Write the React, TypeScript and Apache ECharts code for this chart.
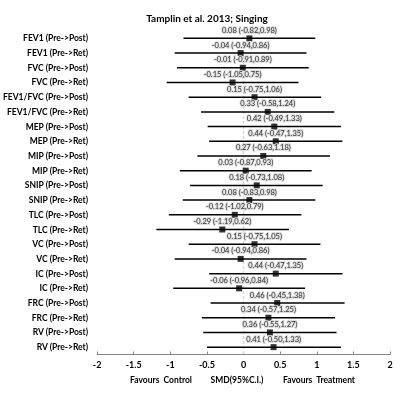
import React, { useEffect, useRef } from "react";
import * as echarts from "echarts";

const categories = [
  "FEV1 (Pre->Post)",
  "FEV1 (Pre->Ret)",
  "FVC (Pre->Post)",
  "FVC (Pre->Ret)",
  "FEV1/FVC (Pre->Post)",
  "FEV1/FVC (Pre->Ret)",
  "MEP (Pre->Post)",
  "MEP (Pre->Ret)",
  "MIP (Pre->Post)",
  "MIP (Pre->Ret)",
  "SNIP (Pre->Post)",
  "SNIP (Pre->Ret)",
  "TLC (Pre->Post)",
  "TLC (Pre->Ret)",
  "VC (Pre->Post)",
  "VC (Pre->Ret)",
  "IC (Pre->Post)",
  "IC (Pre->Ret)",
  "FRC (Pre->Post)",
  "FRC (Pre->Ret)",
  "RV (Pre->Post)",
  "RV (Pre->Ret)",
];

const smd = [0.08, -0.04, -0.01, -0.15, 0.15, 0.33, 0.42, 0.44, 0.27, 0.03, 0.18, 0.08, -0.12, -0.29, 0.15, -0.04, 0.44, -0.06, 0.46, 0.34, 0.36, 0.41];
const lower = [-0.82, -0.94, -0.91, -1.05, -0.75, -0.58, -0.49, -0.47, -0.63, -0.87, -0.73, -0.83, -1.02, -1.19, -0.75, -0.94, -0.47, -0.96, -0.45, -0.57, -0.55, -0.5];
const upper = [0.98, 0.86, 0.89, 0.75, 1.06, 1.24, 1.33, 1.35, 1.18, 0.93, 1.08, 0.98, 0.79, 0.62, 1.05, 0.86, 1.35, 0.84, 1.38, 1.25, 1.27, 1.33];

const title = "Tamplin et al. 2013; Singing";
const bottomLabels = ["Favours  Control", "SMD(95%C.I.)", "Favours  Treatment"];
const bottomLabelX = [161, 237, 319];

const FONT = "Lato, 'Open Sans', sans-serif";

export default function App() {
  const ref = useRef<HTMLDivElement>(null);
  useEffect(() => {
    if (!ref.current) return;
    const chart = echarts.init(ref.current, undefined, { renderer: "svg" });
    const fmt = (v: number) => v.toFixed(2);
    const ciData = categories.map((c, i) => [lower[i], upper[i], i]);
    const ptData = categories.map((c, i) => ({
      value: [smd[i], i],
      label: { formatter: `${fmt(smd[i])} (${fmt(lower[i])},${fmt(upper[i])})` },
    }));
    chart.setOption({
      animation: false,
      textStyle: { fontFamily: FONT },
      title: {
        text: title,
        left: 202,
        textAlign: "center",
        top: 8,
        textStyle: { fontSize: 10, fontWeight: "bold", color: "#000", fontFamily: FONT },
      },
      grid: { left: 95, right: 14, top: 31, bottom: 42.5, containLabel: false },
      xAxis: {
        type: "value",
        min: -2,
        max: 2,
        interval: 0.5,
        splitLine: { show: false },
        axisLine: { show: true, lineStyle: { color: "#868686", width: 1 } },
        axisTick: { show: true, inside: true, length: 3, lineStyle: { color: "#868686" } },
        axisLabel: {
          color: "#000",
          fontWeight: "bold",
          fontSize: 9,
          margin: 5,
          fontFamily: FONT,
          formatter: (v: number) => String(v),
        },
      },
      yAxis: {
        type: "category",
        data: categories,
        inverse: true,
        axisLine: { show: false },
        axisTick: { show: false },
        splitLine: { show: false },
        axisLabel: {
          color: "#000",
          fontWeight: "bold",
          fontSize: 8.5,
          margin: 9,
          fontFamily: FONT,
        },
      },
      graphic: bottomLabels.map((t, i) => ({
        type: "text",
        x: bottomLabelX[i],
        y: 375,
        style: { text: t, font: `bold 8.5px ${FONT}`, fill: "#000", textAlign: "center" },
      })),
      series: [
        {
          type: "custom",
          z: 1,
          data: [[0, 0]],
          encode: { x: 0, y: 1 },
          renderItem: (params: any, api: any) => {
            const cs = params.coordSys;
            const p = api.coord([api.value(0), 0]);
            return {
              type: "line",
              shape: { x1: p[0], y1: cs.y, x2: p[0], y2: cs.y + cs.height },
              style: { stroke: "#d9d9d9", lineWidth: 1.5, lineDash: [3, 2] },
            };
          },
        },
        {
          type: "custom",
          z: 2,
          encode: { x: [0, 1], y: 2 },
          data: ciData,
          renderItem: (params: any, api: any) => {
            const a = api.coord([api.value(0), api.value(2)]);
            const b = api.coord([api.value(1), api.value(2)]);
            return {
              type: "line",
              shape: { x1: a[0], y1: a[1], x2: b[0], y2: b[1] },
              style: { stroke: "#000", lineWidth: 1.5 },
            };
          },
        },
        {
          type: "scatter",
          z: 3,
          symbol: "rect",
          symbolSize: 6,
          itemStyle: { color: "#000" },
          data: ptData,
          label: {
            show: true,
            position: "top",
            distance: 1,
            fontSize: 7.5,
            color: "#000",
            fontFamily: FONT,
            textBorderColor: "#d4d4d4",
            textBorderWidth: 2,
          },
        },
      ],
    });
    return () => chart.dispose();
  }, []);
  return <div ref={ref} style={{ position: "fixed", left: 0, top: 0, width: 404, height: 397 }} />;
}
